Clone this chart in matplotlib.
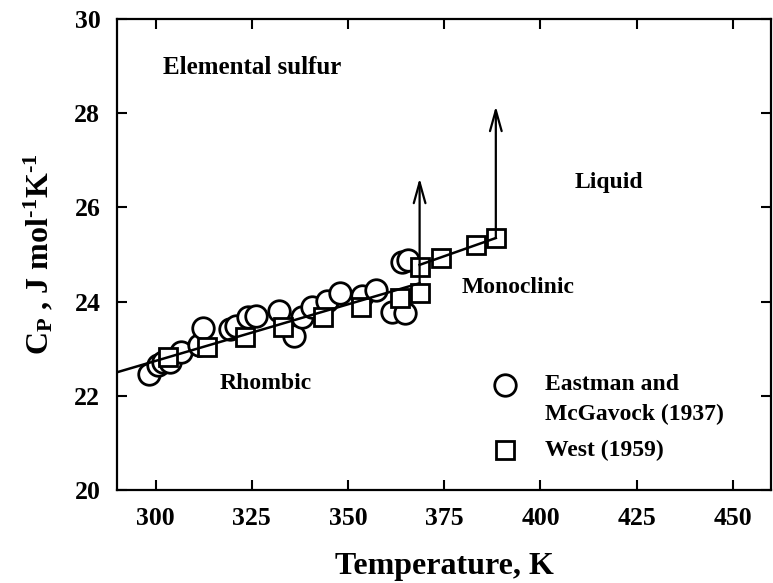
import matplotlib
matplotlib.use("Agg")
import matplotlib.pyplot as plt
from matplotlib.ticker import MultipleLocator

plt.rcParams['font.family'] = ['Liberation Serif', 'DejaVu Serif']
plt.rcParams['font.weight'] = 'bold'
plt.rcParams['mathtext.fontset'] = 'custom'
plt.rcParams['mathtext.rm'] = 'Liberation Serif:bold'
plt.rcParams['mathtext.bf'] = 'Liberation Serif:bold'
plt.rcParams['mathtext.it'] = 'Liberation Serif:bold'
plt.rcParams['mathtext.default'] = 'rm'

# Eastman and McGavock (1937)
em_temp = [298.3, 300.6, 302.0, 303.7, 306.6, 311.3, 312.3, 319.3, 320.9,
    324.0, 326.1, 332.0, 335.9, 338.0, 340.6, 344.5, 347.8, 353.6, 357.4,
    361.3, 364.7, 363.9, 365.5]
em_cp = [22.46, 22.65, 22.71, 22.72, 22.93, 23.08, 23.44, 23.42, 23.48,
    23.67, 23.69, 23.80, 23.27, 23.67, 23.89, 24.01, 24.18, 24.12, 24.25,
    23.78, 23.76, 24.84, 24.88]

# West (1959)
west_temp = [303.2, 313.3, 323.3, 333.2, 343.5, 353.5, 363.4, 368.6,
    368.6, 374.2, 383.3, 388.5]
west_cp = [22.82, 23.04, 23.25, 23.47, 23.68, 23.89, 24.07, 24.18,
    24.74, 24.92, 25.20, 25.34]

# fitted lines
rhombic_temp = [290.0, 368.6]
rhombic_cp = [22.50, 24.39]
mono_temp = [368.6, 388.4]
mono_cp = [24.78, 25.35]

# transition arrows (T, Cp start, Cp end)
arrow_temp = [368.6, 388.4]
arrow_start = [24.39, 25.35]
arrow_end = [26.62, 28.15]

fig = plt.figure(figsize=(7.73, 5.83), dpi=100)
ax = fig.add_axes([0.1514, 0.1595, 0.8466, 0.8079])

ax.plot(em_temp, em_cp, ls='none', marker='o', ms=15.5, mfc='white',
    mec='k', mew=2.0, zorder=4)
ax.plot(west_temp, west_cp, ls='none', marker='s', ms=13.0, mfc='white',
    mec='k', mew=2.0, zorder=5)
# fit drawn on top of the symbols
ax.plot(rhombic_temp, rhombic_cp, c='k', lw=1.8, zorder=6)
ax.plot(mono_temp, mono_cp, c='k', lw=1.8, zorder=6)

for t, c0, c1 in zip(arrow_temp, arrow_start, arrow_end):
    ax.annotate('', xy=(t, c1), xytext=(t, c0),
        arrowprops=dict(arrowstyle='->,head_length=1.5,head_width=0.42',
            lw=1.6, color='k', shrinkA=0, shrinkB=0), zorder=7)

ax.set_xlim(290, 460)
ax.set_ylim(20, 30)
ax.xaxis.set_major_locator(MultipleLocator(25))
ax.yaxis.set_major_locator(MultipleLocator(2))
ax.tick_params(direction='in', length=7, width=1.5, top=True, right=True,
    labelsize=18.5, pad=12)
for sp in ax.spines.values():
    sp.set_linewidth(1.6)

ax.set_xlabel('Temperature, K', fontsize=23, fontweight='bold', labelpad=16)
ax.set_ylabel('C$_{\\rm P}$ , J mol$^{\\rm \u2010 1}$K$^{\\rm \u2010 1}$',
    fontsize=23, fontweight='bold', labelpad=14)

ax.text(301.9, 28.96, 'Elemental sulfur', fontsize=18, fontweight='bold',
    va='center', ha='left')
ax.text(316.7, 22.27, 'Rhombic', fontsize=17, fontweight='bold',
    va='center', ha='left')
ax.text(379.5, 24.29, 'Monoclinic', fontsize=17, fontweight='bold',
    va='center', ha='left')
ax.text(408.8, 26.52, 'Liquid', fontsize=17, fontweight='bold',
    va='center', ha='left')

# legend keys
ax.plot([0.593], [0.223], transform=ax.transAxes, marker='o', ms=15.5,
    mfc='white', mec='k', mew=2.0, ls='none')
ax.plot([0.593], [0.085], transform=ax.transAxes, marker='s', ms=13.0,
    mfc='white', mec='k', mew=2.0, ls='none')
ax.text(0.654, 0.223, 'Eastman and', transform=ax.transAxes, fontsize=17,
    fontweight='bold', va='center', ha='left')
ax.text(0.654, 0.161, 'McGavock (1937)', transform=ax.transAxes, fontsize=17,
    fontweight='bold', va='center', ha='left')
ax.text(0.654, 0.085, 'West (1959)', transform=ax.transAxes, fontsize=17,
    fontweight='bold', va='center', ha='left')

plt.savefig('out.png', dpi=100)
